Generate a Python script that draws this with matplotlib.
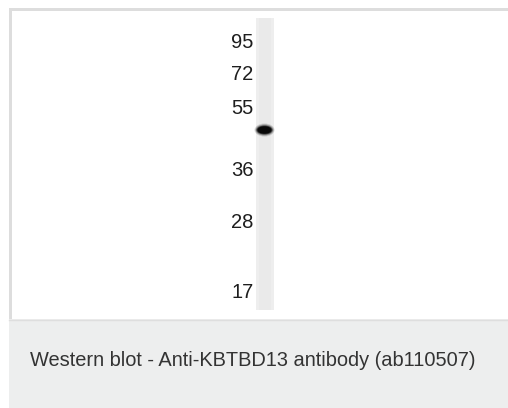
import matplotlib
matplotlib.use("Agg")
import matplotlib.pyplot as plt
from matplotlib.patches import Rectangle, Ellipse

# Data
marker_labels = ["95", "72", "55", "36", "28", "17"]
marker_migration = [43, 75, 108, 170, 223, 293]   # migration position (image rows)
band_labels = ["KBTBD13"]
band_migration = [130]
band_intensity = [1.0]
caption = "Western blot - Anti-KBTBD13 antibody (ab110507)"

W, H = 508, 408
fig = plt.figure(figsize=(W / 100, H / 100), dpi=100)
fig.patch.set_facecolor("white")
ax = fig.add_axes([0, 0, 1, 1])
ax.set_xlim(0, W)
ax.set_ylim(H, 0)
ax.axis("off")

# frame
ax.add_patch(Rectangle((9, 8), W, 2.5, facecolor="#dddddd", edgecolor="none"))
ax.add_patch(Rectangle((9, 8), 2.5, H, facecolor="#dddddd", edgecolor="none"))
# caption panel
ax.add_patch(Rectangle((9, 319), W, H - 319, facecolor="#edeeee", edgecolor="none"))
ax.plot([9, W], [319.5, 319.5], color="#dedede", lw=1)
ax.text(30, 361, caption, fontsize=14.4, family="Liberation Sans",
        color="#333333", va="center", ha="left")

# lane
lane_x0, lane_x1 = 256, 274
ax.add_patch(Rectangle((lane_x0, 18), lane_x1 - lane_x0, 292,
                       facecolor="#eeeeee", edgecolor="none"))
ax.add_patch(Rectangle((lane_x0 + 3, 18), lane_x1 - lane_x0 - 6, 292,
                       facecolor="#e8e8e8", edgecolor="none", alpha=0.6))

# marker labels
for lab, y in zip(marker_labels, marker_migration):
    ax.text(253.5, y, lab, fontsize=14.5, family="Liberation Sans",
            color="#1e1e1e", ha="right", va="center")

# bands
cx = (lane_x0 + lane_x1) / 2
for lab, y, inten in zip(band_labels, band_migration, band_intensity):
    for w, h, a in [(20, 13, 0.15), (18, 11, 0.3), (16, 9, 0.6), (14, 7.5, 1.0)]:
        ax.add_patch(Ellipse((cx - 0.5, y), w, h, facecolor="#080808",
                             edgecolor="none", alpha=a * inten))

fig.savefig("out.png", dpi=100)
